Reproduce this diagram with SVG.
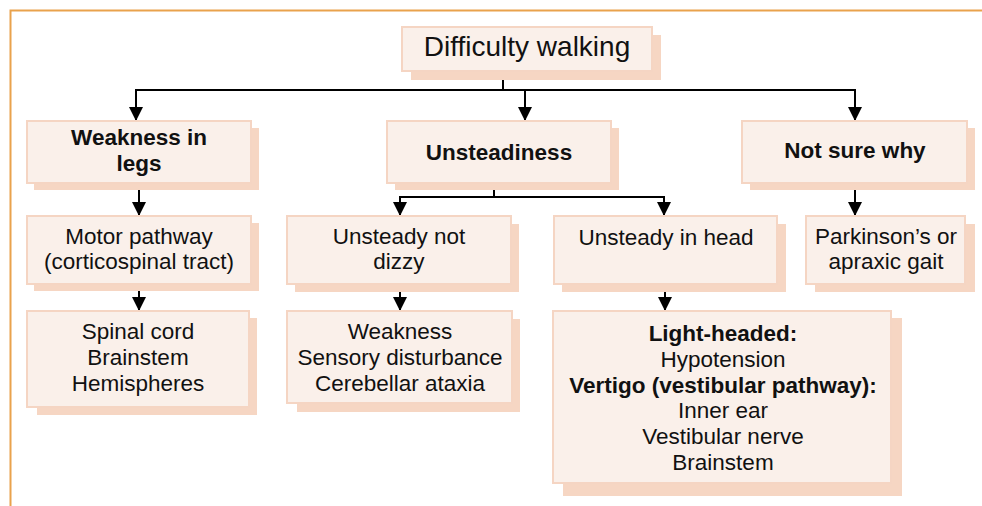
<svg xmlns="http://www.w3.org/2000/svg" width="982" height="506" viewBox="0 0 982 506">
<defs>
<style>
.box{fill:#FAF0EA;stroke:#F5D5C3;stroke-width:2}
.sh{fill:#F6D6C3}
.t{font-family:"Liberation Sans",Arial,sans-serif;font-size:22.5px;fill:#111;text-anchor:middle}
.b{font-weight:bold}
.c{fill:none;stroke:#000;stroke-width:2}
</style>
<marker id="ah" viewBox="0 0 14 14" refX="14" refY="7" markerWidth="14" markerHeight="14" markerUnits="userSpaceOnUse" orient="auto-start-reverse">
<path d="M0,0 L14,7 L0,14 Z" fill="#000"/>
</marker>
</defs>
<rect width="982" height="506" fill="#fff"/>
<path d="M10.5,506 V10.5 H982" fill="none" stroke="#E9A24C" stroke-width="2"/>

<g id="connectors">
<path class="c" d="M503,80 V90"/>
<path class="c" d="M136,121 V90 H855 V121" marker-start="url(#ah)" marker-end="url(#ah)"/>
<path class="c" d="M525,90 V121" marker-end="url(#ah)"/>
<path class="c" d="M139,190 V216" marker-end="url(#ah)"/>
<path class="c" d="M139,291 V311" marker-end="url(#ah)"/>
<path class="c" d="M494,190 V197"/>
<path class="c" d="M400,216 V197 H664 V216" marker-start="url(#ah)" marker-end="url(#ah)"/>
<path class="c" d="M400,291 V311" marker-end="url(#ah)"/>
<path class="c" d="M665,291 V311" marker-end="url(#ah)"/>
<path class="c" d="M855,190 V216" marker-end="url(#ah)"/>
</g>

<g id="difficulty-walking">
<rect class="sh" x="411" y="35" width="250" height="45"/>
<rect class="box" x="402" y="27" width="250" height="44"/>
<text class="t" x="527" y="56" style="font-size:28px">Difficulty walking</text>
</g>

<g id="weakness-in-legs">
<rect class="sh" x="34" y="128" width="225" height="62"/>
<rect class="box" x="27" y="121" width="224" height="62"/>
<text class="t b" x="139" y="145">Weakness in</text>
<text class="t b" x="139" y="171">legs</text>
</g>

<g id="unsteadiness">
<rect class="sh" x="395" y="128" width="224" height="62"/>
<rect class="box" x="387" y="121" width="224" height="62"/>
<text class="t b" x="499" y="160">Unsteadiness</text>
</g>

<g id="not-sure-why">
<rect class="sh" x="750" y="128" width="225" height="62"/>
<rect class="box" x="742" y="121" width="225" height="62"/>
<text class="t b" x="855" y="158">Not sure why</text>
</g>

<g id="motor-pathway">
<rect class="sh" x="34" y="223" width="225" height="68"/>
<rect class="box" x="27" y="216" width="224" height="68"/>
<text class="t" x="139" y="244">Motor pathway</text>
<text class="t" x="139" y="269">(corticospinal tract)</text>
</g>

<g id="spinal-cord">
<rect class="sh" x="37" y="318" width="220" height="97"/>
<rect class="box" x="27" y="311" width="222" height="96"/>
<text class="t" x="138" y="339">Spinal cord</text>
<text class="t" x="138" y="365">Brainstem</text>
<text class="t" x="138" y="391">Hemispheres</text>
</g>

<g id="unsteady-not-dizzy">
<rect class="sh" x="295" y="224" width="224" height="68"/>
<rect class="box" x="287" y="216" width="224" height="68"/>
<text class="t" x="399" y="244">Unsteady not</text>
<text class="t" x="399" y="269">dizzy</text>
</g>

<g id="weakness-sensory">
<rect class="sh" x="297" y="319" width="223" height="93"/>
<rect class="box" x="287" y="311" width="225" height="92"/>
<text class="t" x="400" y="339">Weakness</text>
<text class="t" x="400" y="365">Sensory disturbance</text>
<text class="t" x="400" y="391">Cerebellar ataxia</text>
</g>

<g id="unsteady-in-head">
<rect class="sh" x="562" y="224" width="224" height="68"/>
<rect class="box" x="554" y="216" width="223" height="68"/>
<text class="t" x="666" y="245">Unsteady in head</text>
</g>

<g id="parkinsons">
<rect class="sh" x="815" y="224" width="160" height="68"/>
<rect class="box" x="806" y="216" width="159" height="68"/>
<text class="t" x="886" y="244">Parkinson’s or</text>
<text class="t" x="886" y="269">apraxic gait</text>
</g>

<g id="light-headed">
<rect class="sh" x="563" y="318" width="339" height="178"/>
<rect class="box" x="553" y="311" width="338" height="172"/>
<text class="t b" x="723" y="341">Light-headed:</text>
<text class="t" x="723" y="367">Hypotension</text>
<text class="t b" x="723" y="393">Vertigo (vestibular pathway):</text>
<text class="t" x="723" y="418">Inner ear</text>
<text class="t" x="723" y="444">Vestibular nerve</text>
<text class="t" x="723" y="470">Brainstem</text>
</g>
</svg>
